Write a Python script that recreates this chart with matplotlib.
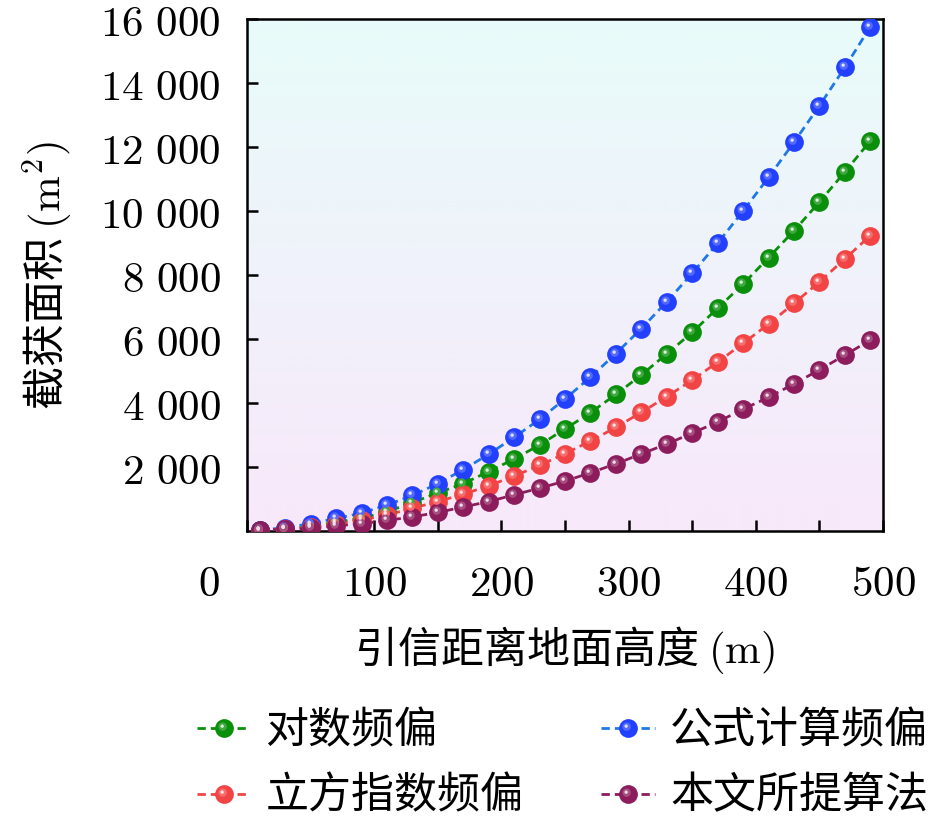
import numpy as np
import matplotlib
matplotlib.use("Agg")
import matplotlib.pyplot as plt
from matplotlib.path import Path
from matplotlib.lines import Line2D
from matplotlib.legend_handler import HandlerTuple
from matplotlib.colors import to_rgb
import matplotlib.transforms as mtransforms


# ---------------------------------------------------
# DATA
# ---------------------------------------------------
heights = [10, 30, 50, 70, 90, 110, 130, 150, 170, 190, 210, 230, 250,
           270, 290, 310, 330, 350, 370, 390, 410, 430, 450, 470, 490]

log_offset = [20, 60, 150, 270, 400, 600, 890, 1190, 1480, 1860, 2250, 2690, 3190,
              3700, 4270, 4880, 5540, 6210, 6970, 7720, 8550, 9390, 10290, 11230, 12200]
formula_offset = [30, 100, 230, 390, 560, 810, 1110, 1480, 1920, 2400, 2930, 3490, 4130,
                  4810, 5550, 6330, 7170, 8060, 9000, 10010, 11060, 12160, 13300, 14500, 15770]
cubic_offset = [10, 50, 120, 220, 340, 500, 710, 920, 1150, 1410, 1720, 2050, 2420,
                2810, 3240, 3710, 4200, 4720, 5280, 5870, 6470, 7120, 7790, 8510, 9240]
proposed = [20, 60, 80, 160, 230, 330, 440, 580, 750, 920, 1130, 1340, 1560,
            1820, 2100, 2410, 2720, 3060, 3410, 3810, 4180, 4600, 5040, 5500, 5970]

labels = ["对数频偏", "公式计算频偏", "立方指数频偏", "本文所提算法"]
x_ticks = [0, 100, 200, 300, 400, 500]
y_ticks = [2000, 4000, 6000, 8000, 10000, 12000, 14000, 16000]

# (marker colour, line colour)
styles = {
    "对数频偏": ("#0a8f0a", "#0a8f0a"),
    "公式计算频偏": ("#2340ff", "#1e78e6"),
    "立方指数频偏": ("#f24444", "#f24444"),
    "本文所提算法": ("#8c1c5c", "#8c1c5c"),
}

FS = 31
plt.rcParams["mathtext.fontset"] = "cm"
plt.rcParams["font.family"] = ["Noto Sans CJK SC", "DejaVu Sans"]
plt.rcParams["font.size"] = FS


def spot_marker(cx, cy, r):
    """Off-centre circle marker (used as the glossy highlight)."""
    circ = Path.circle(center=(cx, cy), radius=r)
    verts = np.vstack([[[1.0, 1.0]], circ.vertices])
    codes = np.concatenate([[Path.MOVETO], circ.codes])
    return Path(verts, codes)


def blend(color, amount):
    c = np.array(to_rgb(color))
    return tuple(c + (1 - c) * amount)


MID_SPOT = spot_marker(-0.2, 0.2, 0.45)
HI_SPOT = spot_marker(-0.25, 0.25, 0.18)
MS = 13.5
DASH = (0, (3, 1.8))


def sphere_handles(ax, x, y, mcolor, lcolor):
    ax.plot(x, y, linestyle=DASH, lw=2.0, color=lcolor, zorder=3)
    base, = ax.plot(x, y, "o", ms=MS, mew=0, color=mcolor, zorder=4)
    mid, = ax.plot(x, y, linestyle="none", marker=MID_SPOT, ms=MS, mew=0,
                   color=blend(mcolor, 0.22), zorder=5)
    hi, = ax.plot(x, y, linestyle="none", marker=HI_SPOT, ms=MS, mew=0,
                  color=blend(mcolor, 0.85), zorder=6)
    lh = Line2D([], [], linestyle=DASH, lw=2.0, color=lcolor)
    return (lh, base, mid, hi)


# ---------------------------------------------------
# PLOT
# ---------------------------------------------------
fig = plt.figure(figsize=(9.45, 8.18), dpi=100)
ax = fig.add_axes([0.2614, 0.3509, 0.9344 - 0.2614, 0.9762 - 0.3509])

# background gradient: light cyan at top -> light pink at bottom
top = np.array(to_rgb("#e8fcfa"))
bot = np.array(to_rgb("#f8e8fa"))
t = np.linspace(0, 1, 256)[:, None]
grad = (top * (1 - t) + bot * t)[:, None, :]
ax.imshow(grad, extent=[0, 1, 0, 1], transform=ax.transAxes, aspect="auto", zorder=0)

series = {
    "对数频偏": log_offset,
    "公式计算频偏": formula_offset,
    "立方指数频偏": cubic_offset,
    "本文所提算法": proposed,
}
handles = {}
for name in labels:
    mc, lc = styles[name]
    handles[name] = sphere_handles(ax, heights, series[name], mc, lc)

ax.set_xlim(0, 500)
ax.set_ylim(0, 16000)

ax.set_xticks(x_ticks)
ax.set_xticklabels([""] + [r"$%d$" % v for v in x_ticks[1:]])
ax.set_xticks(np.arange(50, 500, 100), minor=True)
ax.set_yticks(y_ticks)
ax.set_yticklabels([r"$%d\ 000$" % (v // 1000) for v in y_ticks])

ax.tick_params(axis="x", which="both", direction="in", length=8, width=1.8,
               pad=22, labelsize=FS)
ax.tick_params(axis="y", which="both", direction="in", length=8, width=1.8,
               pad=19, labelsize=FS)
for sp in ax.spines.values():
    sp.set_linewidth(1.8)

# the "0" label sits left of the axis origin in the reference
zero_tr = ax.get_xaxis_transform() + mtransforms.ScaledTranslation(
    -0.38, -22 / 72, fig.dpi_scale_trans)
ax.text(0, 0, r"$0$", transform=zero_tr, ha="center", va="top", fontsize=FS)

ax.set_xlabel(r"引信距离地面高度 $(\mathrm{m})$", fontsize=FS)
ax.xaxis.set_label_coords(0.5, -0.182)
ax.xaxis.label.set_va("top")
ax.set_ylabel(r"截获面积 $(\mathrm{m}^2)$", fontsize=FS)
ax.yaxis.set_label_coords(-0.272, 0.5)

order = ["对数频偏", "立方指数频偏", "公式计算频偏", "本文所提算法"]
fig.legend([handles[n] for n in order], order, ncol=2, frameon=False,
           loc="upper center", bbox_to_anchor=(0.595, 0.17),
           handler_map={tuple: HandlerTuple(ndivide=1, pad=0)},
           handlelength=1.25, handletextpad=0.35, columnspacing=1.8,
           labelspacing=0.5, borderpad=0.2, fontsize=FS)

fig.savefig("out.png", dpi=100)
